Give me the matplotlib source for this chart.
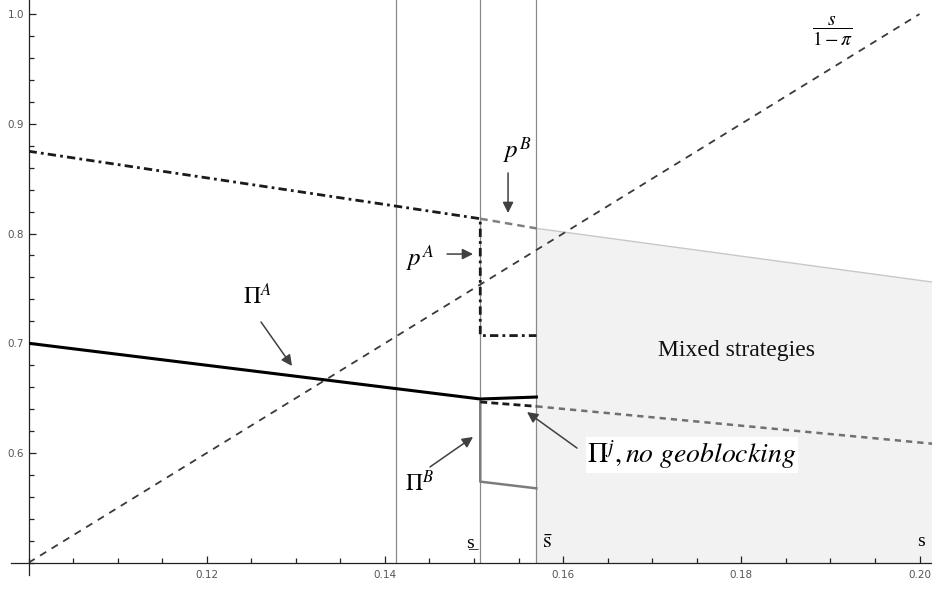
import matplotlib
matplotlib.use("Agg")
import matplotlib.pyplot as plt
from matplotlib.ticker import MultipleLocator, FixedLocator

plt.rcParams["mathtext.fontset"] = "stix"

# thresholds on s
s_low = 0.1507
s_high = 0.1570
s_ref = 0.1412
s_max = 0.2014

# diagonal s / (1 - pi)
diag_s = [0.10, 0.20]
diag_v = [0.50, 1.00]

# p^A: declining branch, jump down at s_low, flat up to s_high
pA_s = [0.10, s_low, s_low, s_high]
pA_v = [0.875, 0.8135, 0.707, 0.707]

# p^B between the thresholds and beyond (edge of the mixed region)
pB_s = [s_low, s_high]
pB_v = [0.8135, 0.8047]
mixed_s = [s_high, s_max]
mixed_top = [0.8047, 0.7558]

# profits
PiA_s = [0.10, s_low, s_high]
PiA_v = [0.700, 0.6492, 0.651]
PiB_s = [s_low, s_low, s_high]
PiB_v = [0.6465, 0.5739, 0.5678]
Pij_s = [s_low, s_high]
Pij_v = [0.6465, 0.6425]
Pij_ext_s = [s_high, s_max]
Pij_ext_v = [0.6425, 0.6085]

fig = plt.figure(figsize=(9.32, 5.90), dpi=100)
ax = fig.add_axes([0.0306, 0.0462, 0.9694, 0.9538])

# mixed-strategy region
ax.fill_between(mixed_s, 0.5, mixed_top, color="#f2f2f2", lw=0, zorder=0)
ax.plot(mixed_s, mixed_top, color="#c8c8c8", lw=1.0, zorder=1)

for xv in (s_ref, s_low, s_high):
    ax.axvline(xv, color="#8a8a8a", lw=0.9, zorder=1)

ax.plot(diag_s, diag_v, color="#3a3a3a", lw=1.3, ls=(0, (4, 3.5)), zorder=2)

ax.plot(pA_s, pA_v, color="#1a1a1a", lw=2.0, ls=(0, (3, 1.5, 1, 1.5)), zorder=3)
ax.plot(pB_s, pB_v, color="#808080", lw=1.8, ls=(0, (3, 2)), zorder=3)

ax.plot(PiB_s, PiB_v, color="#7c7c7c", lw=1.8, zorder=3)
ax.plot(PiA_s, PiA_v, color="#000000", lw=2.2, zorder=4)
ax.plot(Pij_s, Pij_v, color="#1a1a1a", lw=2.0, ls=(0, (2.5, 1.5)), zorder=4)
ax.plot(Pij_ext_s, Pij_ext_v, color="#707070", lw=1.8, ls=(0, (2.5, 2)), zorder=3)

ax.set_xlim(0.10, s_max)
ax.set_ylim(0.50, 1.0128)

ax.xaxis.set_major_locator(FixedLocator([0.12, 0.14, 0.16, 0.18, 0.20]))
ax.xaxis.set_minor_locator(MultipleLocator(0.005))
ax.yaxis.set_major_locator(FixedLocator([0.6, 0.7, 0.8, 0.9, 1.0]))
ax.yaxis.set_minor_locator(MultipleLocator(0.02))
ax.xaxis.set_major_formatter(plt.FuncFormatter(lambda v, _: f"{v:.2f}"))
ax.yaxis.set_major_formatter(plt.FuncFormatter(lambda v, _: f"{v:.1f}"))
ax.tick_params(which="both", direction="in", color="#222222", width=0.9)
ax.tick_params(which="major", length=5, labelsize=7.5, labelcolor="#555555")
ax.tick_params(which="minor", length=3.5)
ax.tick_params(axis="x", pad=5)
ax.tick_params(axis="y", pad=3)
for side in ("top", "right"):
    ax.spines[side].set_visible(False)
for side in ("left", "bottom"):
    ax.spines[side].set_color("#222222")
    ax.spines[side].set_linewidth(0.9)
# axes cross slightly past the origin
ax.spines["bottom"].set_bounds(0.098, s_max)
ax.spines["left"].set_bounds(0.489, 1.0128)

serif = ["Liberation Serif", "DejaVu Serif"]
arrow = dict(arrowstyle="-|>", color="#404040", lw=1.1, mutation_scale=16,
             shrinkA=0, shrinkB=0)

# labels and pointers
ax.text(0.1257, 0.7431, r"$\Pi^{A}$", fontsize=17, ha="center", va="center")
ax.annotate("", xy=(0.12957, 0.6793), xytext=(0.12609, 0.7194), arrowprops=arrow)

ax.text(0.1439, 0.7777, r"$p^{A}$", fontsize=18, ha="center", va="center")
ax.annotate("", xy=(0.14989, 0.7813), xytext=(0.14697, 0.7813), arrowprops=arrow)

ax.text(0.1548, 0.8759, r"$p^{B}$", fontsize=18, ha="center", va="center",
        bbox=dict(facecolor="white", edgecolor="none", pad=1), zorder=5)
ax.annotate("", xy=(0.15382, 0.8187), xytext=(0.15382, 0.8552), arrowprops=arrow)

ax.text(0.1439, 0.5727, r"$\Pi^{B}$", fontsize=17, ha="center", va="center")
ax.annotate("", xy=(0.14989, 0.6146), xytext=(0.14506, 0.5873), arrowprops=arrow)

ax.text(0.16268, 0.5982, r"$\Pi^{j}\mathit{,no\ geoblocking}$", fontsize=20,
        ha="left", va="center",
        bbox=dict(facecolor="white", edgecolor="none", pad=1), zorder=5)
ax.annotate("", xy=(0.15595, 0.6373), xytext=(0.16156, 0.6045), arrowprops=arrow)

ax.text(0.1795, 0.6938, "Mixed strategies", fontsize=17, family=serif,
        ha="center", va="center", color="#111111")
ax.text(0.1902, 0.9845, r"$\dfrac{s}{1-\pi}$", fontsize=14, ha="center", va="center")

ax.text(0.14955, 0.518, "s\u0332", fontsize=14, family=serif, ha="center", va="center")
ax.text(0.1583, 0.519, r"$\bar{\mathrm{s}}$", fontsize=16, ha="center", va="center")
ax.text(0.2002, 0.519, "s", fontsize=14, family=serif, ha="center", va="center")

fig.savefig("out.png", dpi=100)
